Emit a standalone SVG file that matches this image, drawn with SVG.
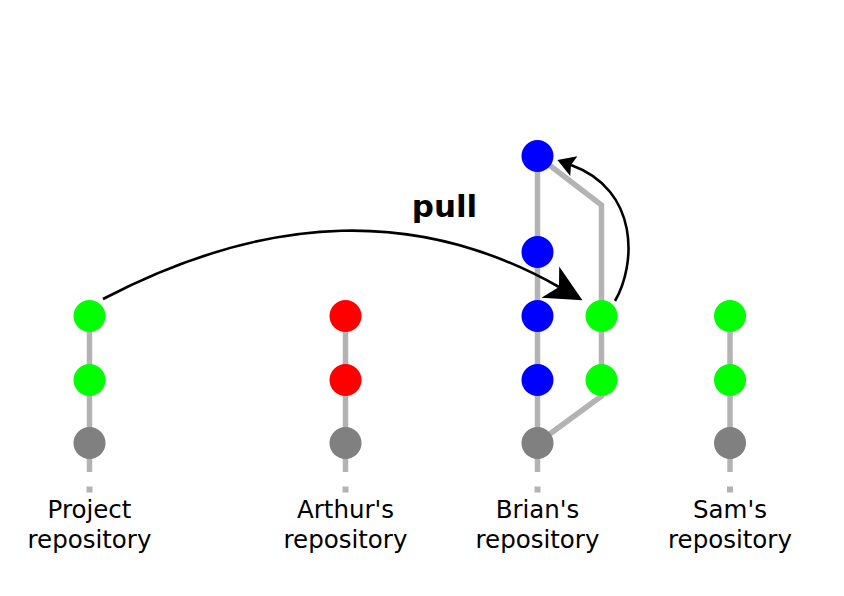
<svg xmlns="http://www.w3.org/2000/svg" width="844" height="596" viewBox="0 0 844 596">
<style>
.branch{fill:none;stroke:#b3b3b3;stroke-width:5.5}
.dash{fill:#b3b3b3}
.arrow{fill:none;stroke:#000;stroke-width:2.6}
.green{fill:#00ff00}
.blue{fill:#0000ff}
.red{fill:#ff0000}
.base{fill:#808080}
.label{font-family:"DejaVu Sans",sans-serif;font-size:24.5px;fill:#000;text-anchor:middle}
.pull{font-family:"DejaVu Sans",sans-serif;font-size:31px;font-weight:bold;fill:#000;text-anchor:middle}
</style>
<defs>
<marker id="headBig" markerUnits="userSpaceOnUse" markerWidth="60" markerHeight="60" refX="0" refY="0" orient="auto" overflow="visible">
<path d="M27,0 L-10,-18 L0,0 L-10,18 Z" fill="#000"/>
</marker>
<marker id="headSmall" markerUnits="userSpaceOnUse" markerWidth="40" markerHeight="40" refX="0" refY="0" orient="auto" overflow="visible">
<path d="M14.5,0 L-3,-10.5 L0,0 L-3,10.5 Z" fill="#000"/>
</marker>
</defs>
<rect width="844" height="596" fill="#fff"/>

<g id="connectors">
<line class="branch" x1="89.5" y1="316" x2="89.5" y2="472"/>
<rect class="dash" x="86.5" y="486.5" width="6" height="6"/>
<line class="branch" x1="345.5" y1="316" x2="345.5" y2="472"/>
<rect class="dash" x="342.5" y="486.5" width="6" height="6"/>
<line class="branch" x1="537.5" y1="156" x2="537.5" y2="472"/>
<rect class="dash" x="534.5" y="486.5" width="6" height="6"/>
<polyline class="branch" points="537.5,443 601.5,396 601.5,205 537.5,156"/>
<line class="branch" x1="730" y1="316" x2="730" y2="472"/>
<rect class="dash" x="727" y="486.5" width="6" height="6"/>
<path class="arrow" d="M103,299 C270,212 420,208 559,287" marker-end="url(#headBig)"/>
<path class="arrow" d="M615,301 C636,265 640,190 571,165" marker-end="url(#headSmall)"/>
</g>

<g id="project">
<circle class="green" cx="89.5" cy="316" r="16"/>
<circle class="green" cx="89.5" cy="380" r="16"/>
<circle class="base" cx="89.5" cy="443" r="16"/>
<text class="label" x="89.5" y="518">Project</text>
<text class="label" x="89.5" y="548">repository</text>
</g>

<g id="arthur">
<circle class="red" cx="345.5" cy="316" r="16"/>
<circle class="red" cx="345.5" cy="380" r="16"/>
<circle class="base" cx="345.5" cy="443" r="16"/>
<text class="label" x="345.5" y="518">Arthur's</text>
<text class="label" x="345.5" y="548">repository</text>
</g>

<g id="brian">
<circle class="blue" cx="537.5" cy="156" r="16"/>
<circle class="blue" cx="537.5" cy="252" r="16"/>
<circle class="blue" cx="537.5" cy="316" r="16"/>
<circle class="blue" cx="537.5" cy="380" r="16"/>
<circle class="base" cx="537.5" cy="443" r="16"/>
<circle class="green" cx="601.5" cy="316" r="16"/>
<circle class="green" cx="601.5" cy="380" r="16"/>
<text class="label" x="537.5" y="518">Brian's</text>
<text class="label" x="537.5" y="548">repository</text>
</g>

<g id="sam">
<circle class="green" cx="730" cy="316" r="16"/>
<circle class="green" cx="730" cy="380" r="16"/>
<circle class="base" cx="730" cy="443" r="16"/>
<text class="label" x="730" y="518">Sam's</text>
<text class="label" x="730" y="548">repository</text>
</g>

<g id="pull-label">
<text class="pull" x="444.5" y="217">pull</text>
</g>
</svg>
